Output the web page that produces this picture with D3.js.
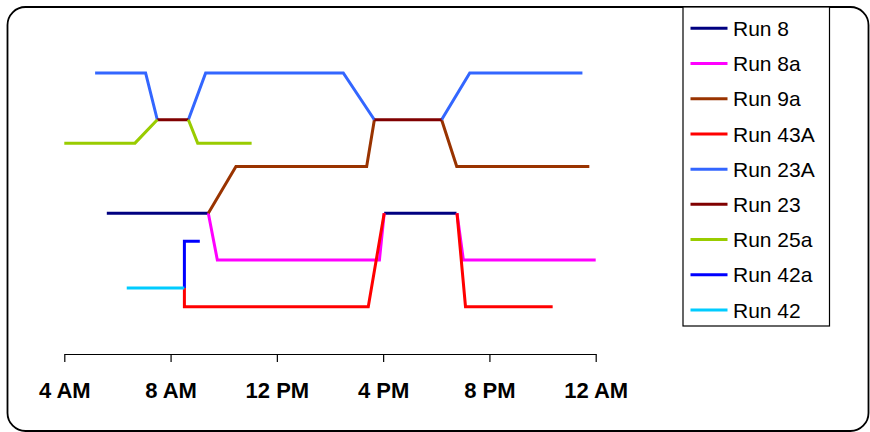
<!DOCTYPE html>
<html>
<head>
<meta charset="utf-8">
<script src="https://cdn.jsdelivr.net/npm/d3@7"></script>
<style>
  html, body { margin: 0; padding: 0; background: #fff; }
  svg { display: block; }
</style>
</head>
<body>
<svg id="chart" width="870" height="432"></svg>
<script>
// ---- Data (hours of day, 4 = 4 AM ... 24 = 12 AM; levels are track rows) ----
const seriesNames = ["Run 8", "Run 8a", "Run 9a", "Run 43A", "Run 23A", "Run 23", "Run 25a", "Run 42a", "Run 42"];
const seriesColors = ["#000080", "#ff00ff", "#993300", "#ff0000", "#3366ff", "#800000", "#99cc00", "#0000ff", "#00ccff"];

const run8Hours   = [5.6, 9.42, null, 16.04, 18.76];
const run8Levels  = [3, 3, null, 3, 3];

const run8aHours  = [9.42, 9.76, 15.86, 16.04, null, 18.78, 19.02, 24.0];
const run8aLevels = [3, 2, 2, 3, null, 3, 2, 2];

const run9aHours  = [9.42, 10.46, 15.38, 15.67, null, 18.2, 18.77, 23.76];
const run9aLevels = [3, 4, 4, 5, null, 5, 4, 4];

const run43AHours  = [8.52, 8.52, 15.44, 16.04, null, 18.78, 19.1, 22.38];
const run43ALevels = [1.4, 1, 1, 3, null, 3, 1, 1];

const run23AHours  = [5.16, 7.06, 7.5, null, 8.67, 9.32, 14.5, 15.67, null, 18.2, 19.26, 23.5];
const run23ALevels = [6, 6, 5, null, 5, 6, 6, 5, null, 5, 6, 6];

const run23Hours  = [7.5, 8.67, null, 15.67, 18.2];
const run23Levels = [5, 5, null, 5, 5];

const run25aHours  = [4.0, 6.66, 7.5, null, 8.67, 9.02, 11.05];
const run25aLevels = [4.5, 4.5, 5, null, 5, 4.5, 4.5];

const run42aHours  = [8.52, 8.52, 9.1];
const run42aLevels = [1.4, 2.4, 2.4];

const run42Hours  = [6.35, 8.52];
const run42Levels = [1.4, 1.4];

const tickHours  = [4, 8, 12, 16, 20, 24];
const tickLabels = ["4 AM", "8 AM", "12 PM", "4 PM", "8 PM", "12 AM"];

// ---- Build series table ----
const hoursList  = [run8Hours, run8aHours, run9aHours, run43AHours, run23AHours, run23Hours, run25aHours, run42aHours, run42Hours];
const levelsList = [run8Levels, run8aLevels, run9aLevels, run43ALevels, run23ALevels, run23Levels, run25aLevels, run42aLevels, run42Levels];
const series = seriesNames.map((name, i) => ({
  name,
  color: seriesColors[i],
  points: hoursList[i].map((h, j) => ({ h, v: levelsList[i][j] }))
}));

// ---- Chart ----
const svg = d3.select("#chart");

// outer rounded frame
svg.append("rect")
  .attr("x", 7.5).attr("y", 7).attr("width", 861).attr("height", 424)
  .attr("rx", 18).attr("ry", 18)
  .attr("fill", "#fff").attr("stroke", "#000").attr("stroke-width", 1.8);

const x = d3.scaleLinear().domain([4, 24]).range([64.3, 595.7]);
const y = d3.scaleLinear().domain([0, 6]).range([353.5, 73]);
const axisY = 354;

const line = d3.line()
  .defined(d => d.h !== null && d.v !== null)
  .x(d => x(d.h))
  .y(d => y(d.v));

svg.append("g")
  .selectAll("path")
  .data(series)
  .join("path")
  .attr("fill", "none")
  .attr("stroke", d => d.color)
  .attr("stroke-width", 3)
  .attr("stroke-linejoin", "miter")
  .attr("d", d => line(d.points));

// x axis
const xAxis = d3.axisBottom(x)
  .tickValues(tickHours)
  .tickFormat((d, i) => tickLabels[i])
  .tickSize(8)
  .tickSizeOuter(0);

const gx = svg.append("g")
  .attr("transform", `translate(0,${axisY})`)
  .call(xAxis);
gx.select(".domain").attr("stroke", "#000").attr("stroke-width", 1.2);
gx.selectAll(".tick line").attr("stroke", "#000").attr("stroke-width", 1.2);
gx.selectAll(".tick text")
  .attr("y", 43.5)
  .attr("dy", "0")
  .attr("fill", "#000")
  .style("font-family", "Arial, 'Liberation Sans', sans-serif")
  .style("font-weight", "bold")
  .style("font-size", "22px");

// legend
const legend = svg.append("g");
legend.append("rect")
  .attr("x", 683).attr("y", 7).attr("width", 146.5).attr("height", 319)
  .attr("fill", "#fff").attr("stroke", "#000").attr("stroke-width", 1.2);

const legendY = d3.scalePoint().domain(seriesNames).range([28.3, 310]);
const items = legend.selectAll("g.item")
  .data(series)
  .join("g")
  .attr("class", "item")
  .attr("transform", d => `translate(0,${legendY(d.name)})`);
items.append("line")
  .attr("x1", 690.5).attr("x2", 727.5)
  .attr("y1", 0).attr("y2", 0)
  .attr("stroke", d => d.color)
  .attr("stroke-width", 3);
items.append("text")
  .attr("x", 733)
  .attr("y", 0)
  .attr("dy", "0.36em")
  .attr("fill", "#000")
  .style("font-family", "Arial, 'Liberation Sans', sans-serif")
  .style("font-size", "21px")
  .text(d => d.name);
</script>
</body>
</html>
